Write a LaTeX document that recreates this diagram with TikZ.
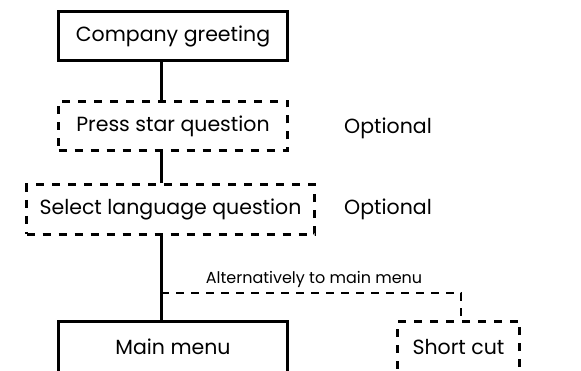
\documentclass[tikz,border=0pt]{standalone}
\usepackage{fontspec}
\setmainfont{Poppins}
\begin{document}
\begin{tikzpicture}[x=1pt,y=1pt, line join=miter,
	box/.style={draw, line width=3pt, inner sep=0pt, minimum width=229pt, minimum height=49pt, font=\fontsize{20.5}{22}\selectfont},
	optbox/.style={box, dash pattern=on 8pt off 8pt},
	note/.style={font=\fontsize{20.5}{22}\selectfont},
	link/.style={line width=3pt},
	altlink/.style={line width=1.5pt, dash pattern=on 8pt off 7pt}]
	\useasboundingbox (0,0) rectangle (581,370);
	
	\node[box] (greet) at (173,334) {Company greeting};
	\node[optbox] (star) at (173,244) {Press star question};
	\node[optbox, minimum width=288pt] (lang) at (170.5,160.5) {Select language question};
	\node[box, minimum height=52pt] (menu) at (173,23) {Main menu};
	\node[optbox, minimum width=122pt, minimum height=52pt] (short) at (458.5,23) {Short cut};
	
	\node[note] (opt1) at (388,242) {Optional};
	\node[note] (opt2) at (388,161) {Optional};
	
	\coordinate (trunk) at (161,0);
	\draw[link] (trunk |- greet.south) -- (trunk |- star.north);
	\draw[link] (trunk |- star.south) -- (trunk |- lang.north);
	\draw[link] (trunk |- lang.south) -- (trunk |- menu.north);
	
	% shortcut branch
	\coordinate (split) at (161,77);
	\coordinate (bend) at (461,77);
	\draw[altlink] (split) -- (bend) -- (bend |- short.north);
	\node[font=\fontsize{16}{18}\selectfont] (alt) at (314,91) {Alternatively to main menu};
\end{tikzpicture}
\end{document}
